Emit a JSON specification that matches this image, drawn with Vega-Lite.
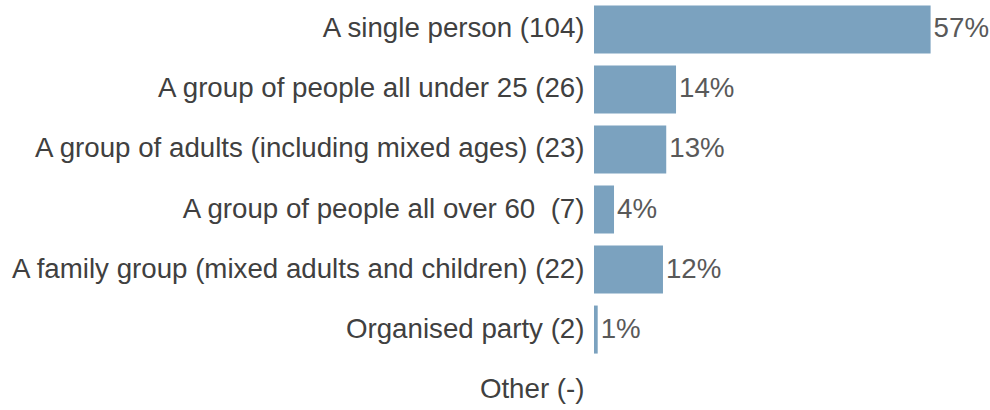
{
  "$schema": "https://vega.github.io/schema/vega-lite/v6.json",
  "width": 396,
  "height": 419,
  "autosize": {"type": "none"},
  "padding": {"left": 594, "top": 0, "right": 0, "bottom": 0},
  "background": "white",
  "config": {"view": {"stroke": null}, "font": "Liberation Sans"},
  "data": {
    "values": [
      {"label": "A single person (104)", "count": 104, "pct": "57%"},
      {"label": "A group of people all under 25 (26)", "count": 26, "pct": "14%"},
      {"label": "A group of adults (including mixed ages) (23)", "count": 23, "pct": "13%"},
      {"label": "A group of people all over 60\u00a0 (7)", "count": 7, "pct": "4%"},
      {"label": "A family group (mixed adults and children) (22)", "count": 22, "pct": "12%"},
      {"label": "Organised party (2)", "count": 2, "pct": "1%"},
      {"label": "Other (-)", "count": null, "pct": ""}
    ]
  },
  "encoding": {
    "y": {
      "field": "label",
      "type": "nominal",
      "sort": null,
      "scale": {
        "domain": [
          "A single person (104)",
          "A group of people all under 25 (26)",
          "A group of adults (including mixed ages) (23)",
          "A group of people all over 60\u00a0 (7)",
          "A family group (mixed adults and children) (22)",
          "Organised party (2)",
          "Other (-)"
        ],
        "paddingInner": 0.2,
        "paddingOuter": 0.09
      },
      "axis": {
        "title": null,
        "domain": false,
        "ticks": false,
        "tickSize": 0,
        "labelPadding": 10,
        "labelFont": "Liberation Sans",
        "labelFontSize": 27.7,
        "labelColor": "#404040",
        "labelLimit": 800
      }
    },
    "x": {
      "field": "count",
      "type": "quantitative",
      "scale": {"domain": [0.867, 122.2], "zero": false, "nice": false},
      "axis": null
    }
  },
  "layer": [
    {
      "mark": {"type": "bar", "color": "#7BA2BF", "clip": false},
      "encoding": {"x2": {"datum": 0.867}}
    },
    {
      "mark": {
        "type": "text",
        "align": "left",
        "baseline": "middle",
        "dx": 3,
        "font": "Liberation Sans",
        "fontSize": 27.7,
        "color": "#595959"
      },
      "encoding": {"text": {"field": "pct"}}
    }
  ]
}
